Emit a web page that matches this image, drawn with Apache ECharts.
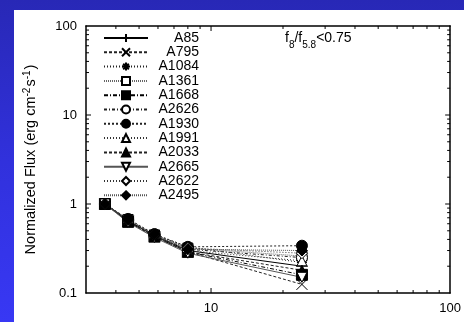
<!DOCTYPE html>
<html><head><meta charset="utf-8">
<script src="https://cdn.jsdelivr.net/npm/echarts@6/dist/echarts.min.js"></script>
<style>
html,body{margin:0;padding:0;}
#c{width:464px;height:322px;background:linear-gradient(180deg,#2828b6 0%,#3131dc 50%,#3838f4 100%);}
</style></head>
<body><div id="c"></div>
<script>
// ---- data ----
const wavelengths = [3.6, 4.5, 5.8, 8.0, 24];
const names = ['A85','A795','A1084','A1361','A1668','A2626','A1930','A1991','A2033','A2665','A2622','A2495'];
const A85   = [1, 0.65, 0.44, 0.30, 0.20];
const A795  = [1, 0.64, 0.43, 0.29, 0.125];
const A1084 = [1, 0.66, 0.45, 0.33, 0.22];
const A1361 = [1, 0.67, 0.45, 0.32, 0.26];
const A1668 = [1, 0.63, 0.43, 0.29, 0.16];
const A2626 = [1, 0.66, 0.44, 0.31, 0.25];
const A1930 = [1, 0.68, 0.46, 0.33, 0.34];
const A1991 = [1, 0.65, 0.44, 0.30, 0.23];
const A2033 = [1, 0.64, 0.43, 0.29, 0.18];
const A2665 = [1, 0.62, 0.42, 0.28, 0.15];
const A2622 = [1, 0.66, 0.45, 0.32, 0.28];
const A2495 = [1, 0.67, 0.45, 0.31, 0.30];
const values = [A85,A795,A1084,A1361,A1668,A2626,A1930,A1991,A2033,A2665,A2622,A2495];
const xTickLabels = [10, 100];
const yTickLabels = [0.1, 1, 10, 100];
const xMajorTicks = [10];
const xMinorTicks = [4,5,6,7,8,9,20,30,40,50,60,70,80,90];
const yMajorTicks = [1, 10];
const yMinorTicks = [0.2,0.3,0.4,0.5,0.6,0.7,0.8,0.9,2,3,4,5,6,7,8,9,20,30,40,50,60,70,80,90];
const X_MIN = 3, X_MAX = 100, Y_MIN = 0.1, Y_MAX = 100;

// ---- styles ----
const P_PLUS = 'path://M5,0L5,10M0,5L10,5';
const P_CROSS = 'path://M0,0L10,10M0,10L10,0';
const P_STAR = 'path://M5,0L5,10M0,5L10,5M1.5,1.5L8.5,8.5M1.5,8.5L8.5,1.5';
const styles = [
  {sym:P_PLUS, fill:'#000', size:12, dash:'solid', color:'#000'},
  {sym:P_CROSS, fill:'#000', size:11, dash:[3,2], color:'#222'},
  {sym:P_STAR, fill:'#000', size:10, dash:[1,2], color:'#222'},
  {sym:'rect', fill:'#fff', size:10, dash:[1,1], color:'#666'},
  {sym:'rect', fill:'#000', size:11, dash:[4,2,1,2], color:'#000'},
  {sym:'circle', fill:'#fff', size:11, dash:[3,2,1,2], color:'#222'},
  {sym:'circle', fill:'#000', size:11, dash:[2,2], color:'#222'},
  {sym:'triangle', fill:'#fff', size:10, dash:[1,2], color:'#333'},
  {sym:'triangle', fill:'#000', size:10, dash:[3,2], color:'#222'},
  {sym:'triangle', fill:'#fff', size:10, dash:'solid', color:'#555', rot:180},
  {sym:'diamond', fill:'#fff', size:11, dash:[1,2], color:'#333'},
  {sym:'diamond', fill:'#000', size:11, dash:[1,1], color:'#555'}
];

const FONT = 'Liberation Sans, Arial, sans-serif';
function near(v, arr){ for (const a of arr){ if (Math.abs(Math.log10(v)-Math.log10(a))<0.01) return a; } return null; }

const series = names.map((n,i)=>({
  name:n, type:'line',
  data: wavelengths.map((w,j)=>[w, values[i][j]]),
  symbol: styles[i].sym, symbolSize: styles[i].size, symbolRotate: styles[i].rot||0,
  showAllSymbol:true,
  lineStyle:{color:styles[i].color, width:1, type:styles[i].dash},
  itemStyle:{color:styles[i].fill, borderColor:'#000', borderWidth:1},
  emphasis:{disabled:true}, animation:false, z:3
}));

function tickData(list, len, isX){ return list.map(v => isX ? [v, Y_MIN, len] : [X_MIN, v, len]); }
series.push({
  type:'custom', name:'xticks', silent:true, animation:false, clip:false, z:5,
  data: tickData(xMajorTicks,5,true).concat(tickData(xMinorTicks,3,true)),
  encode:{x:0,y:1},
  renderItem:(params, api)=>{
    const v = api.value(0), len = api.value(2);
    const b = api.coord([v, Y_MIN]), t = api.coord([v, Y_MAX]);
    const st = {stroke:'#000', lineWidth:1};
    return {type:'group', children:[
      {type:'line', shape:{x1:b[0],y1:b[1],x2:b[0],y2:b[1]-len}, style:st},
      {type:'line', shape:{x1:t[0],y1:t[1],x2:t[0],y2:t[1]+len}, style:st}
    ]};
  }
});
series.push({
  type:'custom', name:'yticks', silent:true, animation:false, clip:false, z:5,
  data: tickData(yMajorTicks,5,false).concat(tickData(yMinorTicks,3,false)),
  encode:{x:0,y:1},
  renderItem:(params, api)=>{
    const v = api.value(1), len = api.value(2);
    const l = api.coord([X_MIN, v]), r = api.coord([X_MAX, v]);
    const st = {stroke:'#000', lineWidth:1};
    return {type:'group', children:[
      {type:'line', shape:{x1:l[0],y1:l[1],x2:l[0]+len,y2:l[1]}, style:st},
      {type:'line', shape:{x1:r[0],y1:r[1],x2:r[0]-len,y2:r[1]}, style:st}
    ]};
  }
});

const axisLine = {show:true, lineStyle:{color:'#000', width:1.5}};
const chart = echarts.init(document.getElementById('c'), null, {renderer:'canvas'});
chart.setOption({
  backgroundColor:'transparent',
  animation:false,
  textStyle:{fontFamily:FONT},
  graphic:[{type:'rect', shape:{x:14, y:10, width:460, height:322}, style:{fill:'#fff'}, z:-10, silent:true}],
  title:{
    text:'{n|f}{s|8}{n|/f}{s|5.8}{n|<0.75}',
    left:285, top:31, padding:0,
    textStyle:{fontWeight:'normal', rich:{
      n:{fontSize:14, fontWeight:'normal', fontFamily:FONT, color:'#000', verticalAlign:'top', lineHeight:19},
      s:{fontSize:10, fontWeight:'normal', fontFamily:FONT, color:'#000', verticalAlign:'bottom', lineHeight:19}
    }}
  },
  legend:{
    show:true, orient:'vertical', left:103, top:31, padding:0,
    itemWidth:44, itemHeight:10, itemGap:0.3,
    selectedMode:false, data:names,
    formatter: n => '{r|' + n + '}',
    textStyle:{rich:{r:{width:46, align:'right', fontSize:14, lineHeight:12, fontFamily:FONT, color:'#000'}}}
  },
  grid:{left:86, right:9, top:26, bottom:29, containLabel:false},
  xAxis:[
    {type:'log', logBase:10, min:X_MIN, max:X_MAX, splitNumber:2,
     axisLine, axisTick:{show:false}, splitLine:{show:false},
     axisLabel:{fontSize:13, color:'#000', margin:9, fontFamily:FONT, showMinLabel:true, showMaxLabel:true,
       formatter: v => { const a = near(v, xTickLabels); return a===null ? '' : String(a); }}},
    {type:'log', logBase:10, min:X_MIN, max:X_MAX, position:'top',
     axisLine, axisTick:{show:false}, axisLabel:{show:false}, splitLine:{show:false}}
  ],
  yAxis:[
    {type:'log', logBase:10, min:Y_MIN, max:Y_MAX,
     axisLine, axisTick:{show:false}, splitLine:{show:false},
     axisLabel:{fontSize:13, color:'#000', margin:9, fontFamily:FONT,
       formatter: v => { const a = near(v, yTickLabels); return a===null ? '' : String(a); }},
     name:'Normalized Flux (erg cm{sup|-2}s{sup|-1})', nameLocation:'middle', nameRotate:90, nameGap:46,
     nameTextStyle:{fontSize:14.5, color:'#000', fontFamily:FONT,
       rich:{sup:{fontSize:10, color:'#000', fontFamily:FONT, verticalAlign:'top', padding:[0,1,8,0]}}}},
    {type:'log', logBase:10, min:Y_MIN, max:Y_MAX, position:'right',
     axisLine, axisTick:{show:false}, axisLabel:{show:false}, splitLine:{show:false}}
  ],
  series
});
</script></body></html>
